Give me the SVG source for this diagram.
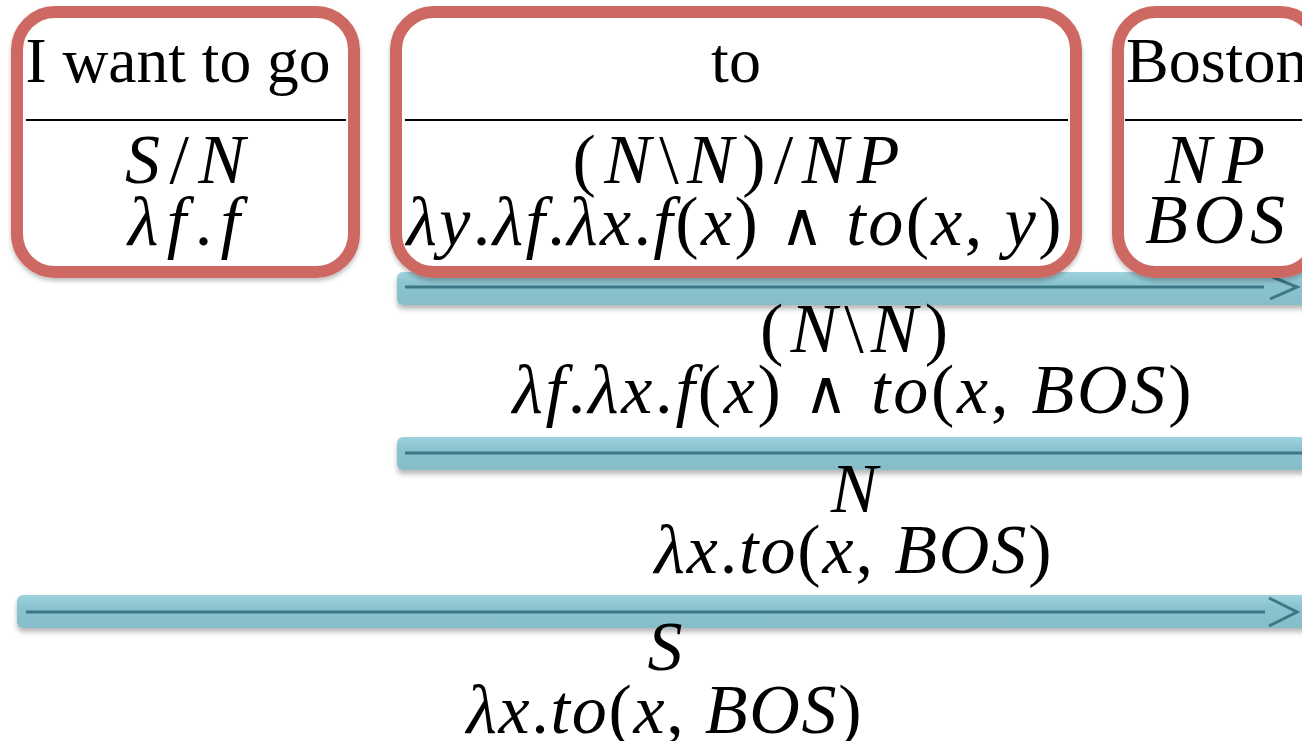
<svg xmlns="http://www.w3.org/2000/svg" width="1302" height="741" viewBox="0 0 1302 741">
<defs>
<linearGradient id="barGrad" x1="0" y1="0" x2="0" y2="1">
<stop offset="0" stop-color="#9fd2dd"/>
<stop offset="0.35" stop-color="#8ac3cf"/>
<stop offset="1" stop-color="#86bdc9"/>
</linearGradient>
<filter id="barShadow" x="-5%" y="-30%" width="110%" height="180%">
<feDropShadow dx="0" dy="4" stdDeviation="2.5" flood-color="#000" flood-opacity="0.28"/>
</filter>
<filter id="boxShadow" x="-5%" y="-5%" width="110%" height="115%">
<feDropShadow dx="0" dy="3" stdDeviation="2" flood-color="#000" flood-opacity="0.25"/>
</filter>
</defs>
<style>
.box{fill:#ffffff;stroke:#cd6862;stroke-width:12}
.sep{stroke:#000;stroke-width:2}
.bar{fill:url(#barGrad)}
.rule{stroke:#3e7684;stroke-width:3;fill:none}
.head{stroke:#3e7684;stroke-width:3;fill:none;stroke-linejoin:miter}
.word{font-family:"Liberation Serif","Times New Roman",serif;font-size:64px;fill:#000}
.m{font-family:"Liberation Serif","Times New Roman",serif;font-size:70px;fill:#000;font-style:italic;text-anchor:middle}
.u{font-style:normal}
.op{font-style:normal;font-family:"DejaVu Serif",serif;font-size:60px}
</style>
<rect width="1302" height="741" fill="#ffffff"/>

<g id="connectors">
<g id="rule1" filter="url(#barShadow)">
<rect class="bar" x="397" y="272" width="920" height="33" rx="6"/>
<line class="rule" x1="405" y1="287" x2="1264" y2="287"/>
<polyline class="head" points="1270,276 1297,287 1270,299"/>
</g>
<g id="rule2" filter="url(#barShadow)">
<rect class="bar" x="397" y="437" width="920" height="33" rx="6"/>
<line class="rule" x1="405" y1="453" x2="1310" y2="453"/>
</g>
<g id="rule3" filter="url(#barShadow)">
<rect class="bar" x="17" y="595" width="1300" height="33" rx="6"/>
<line class="rule" x1="26" y1="612" x2="1265" y2="612"/>
<polyline class="head" points="1269,598 1297,612 1269,626"/>
</g>
</g>

<g id="node-want" filter="url(#boxShadow)">
<rect class="box" x="17" y="12" width="337" height="260" rx="38"/>
</g>
<g id="node-want-text">
<text class="word" x="178" y="82" text-anchor="middle" textLength="305" lengthAdjust="spacingAndGlyphs">I want to go</text>
<line class="sep" x1="26" y1="120" x2="346" y2="120"/>
<text class="m" x="185" y="183" textLength="120" lengthAdjust="spacing">S<tspan class="u">/</tspan>N</text>
<text class="m" x="184" y="245" textLength="112" lengthAdjust="spacing">λf<tspan class="u">.</tspan>f</text>
</g>

<g id="node-to" filter="url(#boxShadow)">
<rect class="box" x="396" y="12" width="680" height="260" rx="38"/>
</g>
<g id="node-to-text">
<text class="word" x="736" y="82" text-anchor="middle">to</text>
<line class="sep" x1="405" y1="120" x2="1068" y2="120"/>
<text class="m" x="736" y="183" textLength="327" lengthAdjust="spacing"><tspan class="u">(</tspan>N<tspan class="u">\</tspan>N<tspan class="u">)/</tspan>NP</text>
<text class="m" x="734" y="245" textLength="655" lengthAdjust="spacing">λy<tspan class="u">.</tspan>λf<tspan class="u">.</tspan>λx<tspan class="u">.</tspan>f<tspan class="u">(</tspan>x<tspan class="u">) </tspan><tspan class="op">∧</tspan><tspan class="u"> </tspan>to<tspan class="u">(</tspan>x<tspan class="u">, </tspan>y<tspan class="u">)</tspan></text>
</g>

<g id="node-boston" filter="url(#boxShadow)">
<rect class="box" x="1118" y="12" width="200" height="260" rx="38"/>
</g>
<g id="node-boston-text">
<text class="word" x="1126" y="82">Boston</text>
<line class="sep" x1="1125" y1="120" x2="1310" y2="120"/>
<text class="m" x="1215" y="183" textLength="100" lengthAdjust="spacing">NP</text>
<text class="m" x="1215" y="243" textLength="140" lengthAdjust="spacing">BOS</text>
</g>

<g id="result-1">
<text class="m" x="854" y="352" textLength="188" lengthAdjust="spacing"><tspan class="u">(</tspan>N<tspan class="u">\</tspan>N<tspan class="u">)</tspan></text>
<text class="m" x="852" y="413" textLength="679" lengthAdjust="spacing">λf<tspan class="u">.</tspan>λx<tspan class="u">.</tspan>f<tspan class="u">(</tspan>x<tspan class="u">) </tspan><tspan class="op">∧</tspan><tspan class="u"> </tspan>to<tspan class="u">(</tspan>x<tspan class="u">, </tspan>BOS<tspan class="u">)</tspan></text>
</g>

<g id="result-2">
<text class="m" x="854" y="512">N</text>
<text class="m" x="853" y="573" textLength="397" lengthAdjust="spacing">λx<tspan class="u">.</tspan>to<tspan class="u">(</tspan>x<tspan class="u">, </tspan>BOS<tspan class="u">)</tspan></text>
</g>

<g id="result-3">
<text class="m" x="665" y="670">S</text>
<text class="m" x="664" y="733" textLength="395" lengthAdjust="spacing">λx<tspan class="u">.</tspan>to<tspan class="u">(</tspan>x<tspan class="u">, </tspan>BOS<tspan class="u">)</tspan></text>
</g>
</svg>
